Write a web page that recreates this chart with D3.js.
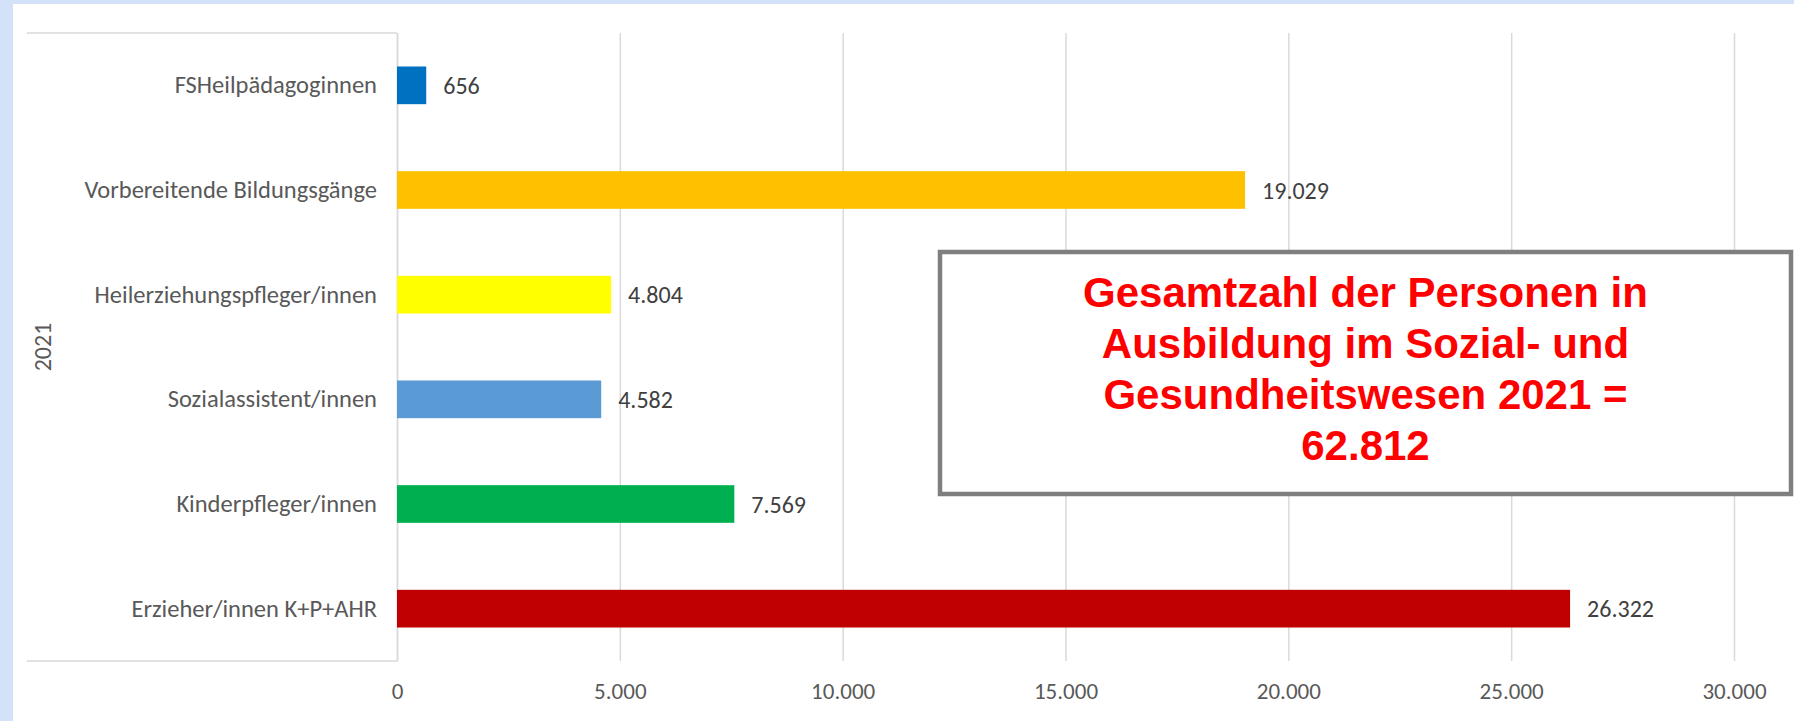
<!DOCTYPE html>
<html>
<head>
<meta charset="utf-8">
<script src="https://cdn.jsdelivr.net/npm/d3@7"></script>
<style>
  body { margin: 0; background: #d3e1f9; }
  #chart { position: absolute; left: 0; top: 0; }
  text { font-family: Carlito, Calibri, Lato, sans-serif; }
</style>
</head>
<body>
<div id="chart"></div>
<script>
// data, top to bottom as in the chart
const categories = ["FSHeilpädagoginnen", "Vorbereitende Bildungsgänge", "Heilerziehungspfleger/innen",
  "Sozialassistent/innen", "Kinderpfleger/innen", "Erzieher/innen K+P+AHR"];
const values = [656, 19029, 4804, 4582, 7569, 26322];
const barColors = ["#0070c0", "#ffc000", "#ffff00", "#5b9bd5", "#00b050", "#c00000"];
const groupLabel = "2021";
const xTicks = [0, 5000, 10000, 15000, 20000, 25000, 30000];
const boxLines = ["Gesamtzahl der Personen in", "Ausbildung im Sozial- und", "Gesundheitswesen 2021 =", "62.812"];

const width = 1794, height = 721;
const margin = {left: 397, right: 60, top: 33, bottom: 60};

const de = d3.formatLocale({decimal: ",", thousands: ".", grouping: [3], currency: ["", " €"]});
const fmt = de.format(",d");

const svg = d3.create("svg").attr("width", width).attr("height", height);
document.querySelector("#chart").append(svg.node());

// white panel
svg.append("rect").attr("x", 13).attr("y", 4).attr("width", width - 13).attr("height", height - 4)
  .attr("fill", "#fff");

const x = d3.scaleLinear().domain([0, 30000]).range([margin.left, 1734]);
const y = d3.scaleBand().domain(categories).range([margin.top, height - margin.bottom]);
const barH = y.bandwidth() * 0.36;

// gridlines
svg.append("g")
  .attr("transform", `translate(0,${margin.top})`)
  .call(d3.axisBottom(x).tickValues(xTicks).tickSize(height - margin.bottom - margin.top).tickFormat(""))
  .call(g => g.select(".domain").remove())
  .call(g => g.selectAll("line").attr("stroke", "#d9d9d9").attr("stroke-width", 1.5));

// category box lines
const boxG = svg.append("g").attr("stroke", "#d9d9d9").attr("stroke-width", 1.5);
boxG.append("line").attr("x1", 27).attr("x2", margin.left).attr("y1", margin.top).attr("y2", margin.top);
boxG.append("line").attr("x1", 27).attr("x2", margin.left).attr("y1", height - margin.bottom).attr("y2", height - margin.bottom);

// x tick labels
svg.append("g")
  .attr("transform", `translate(0,${height - margin.bottom})`)
  .call(d3.axisBottom(x).tickValues(xTicks).tickSize(0).tickPadding(22).tickFormat(fmt))
  .call(g => g.select(".domain").remove())
  .call(g => g.selectAll("text").attr("fill", "#595959").style("font-size", "23px")
    .style("font-family", "Carlito, Calibri, Lato, sans-serif"));

// y axis with category labels
svg.append("g")
  .attr("transform", `translate(${margin.left},0)`)
  .call(d3.axisLeft(y).tickSize(0).tickPadding(20))
  .call(g => g.select(".domain").attr("stroke", "#d9d9d9").attr("stroke-width", 1.5))
  .call(g => g.selectAll("text").attr("fill", "#595959").style("font-size", "24.5px")
    .style("font-family", "Carlito, Calibri, Lato, sans-serif"));

// group label
svg.append("text")
  .attr("transform", `translate(45,${(margin.top + height - margin.bottom) / 2}) rotate(-90)`)
  .attr("text-anchor", "middle").attr("dominant-baseline", "middle")
  .attr("fill", "#595959").style("font-size", "24px")
  .text(groupLabel);

// bars
svg.append("g").selectAll("rect")
  .data(categories)
  .join("rect")
  .attr("x", x(0))
  .attr("y", d => y(d) + (y.bandwidth() - barH) / 2)
  .attr("width", (d, i) => x(values[i]) - x(0))
  .attr("height", barH)
  .attr("fill", (d, i) => barColors[i]);

// value labels
svg.append("g").selectAll("text")
  .data(categories)
  .join("text")
  .attr("x", (d, i) => x(values[i]) + 17)
  .attr("y", d => y(d) + y.bandwidth() / 2)
  .attr("dominant-baseline", "central")
  .attr("fill", "#404040").style("font-size", "24px")
  .text((d, i) => fmt(values[i]));

// text box
const bx = 940, by = 252, bw = 851, bh = 242;
svg.append("rect").attr("x", bx).attr("y", by).attr("width", bw).attr("height", bh)
  .attr("fill", "#fff").attr("stroke", "#7f7f7f").attr("stroke-width", 4.5);
svg.append("text")
  .attr("text-anchor", "middle")
  .attr("fill", "#ff0000")
  .style("font-family", "'Liberation Sans Narrow', 'Arial Narrow', 'Liberation Sans', sans-serif")
  .style("font-weight", "bold").style("font-size", "42px")
  .selectAll("tspan")
  .data(boxLines)
  .join("tspan")
  .attr("x", bx + bw / 2)
  .attr("y", (d, i) => 307 + i * 51)
  .text(d => d);
</script>
</body>
</html>
